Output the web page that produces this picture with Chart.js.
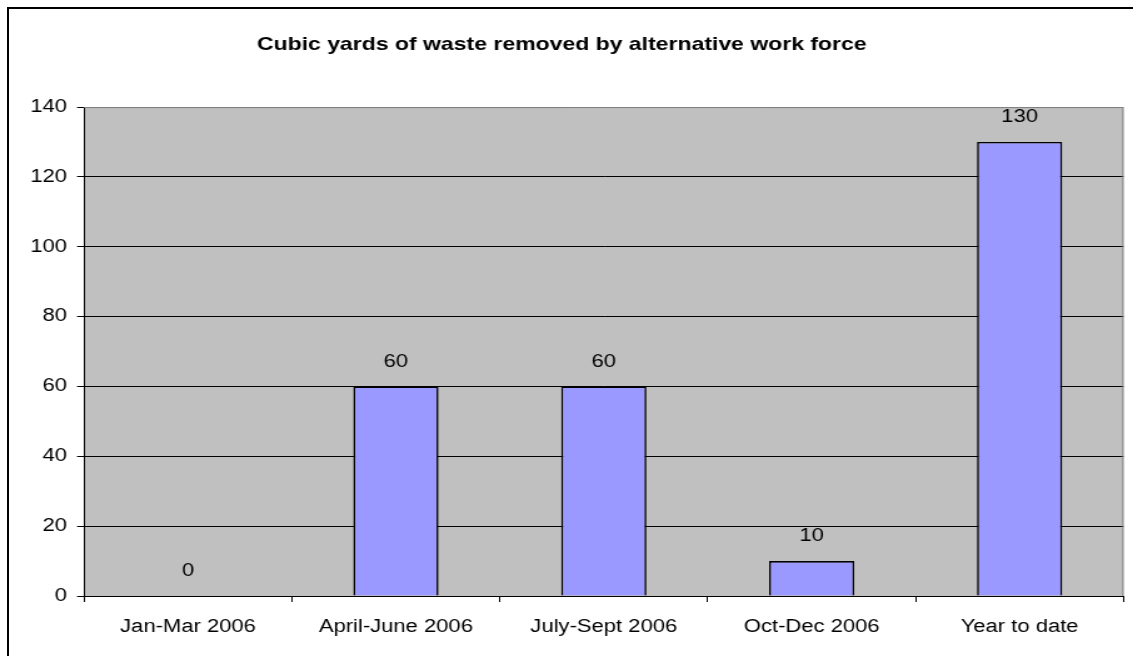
<!DOCTYPE html>
<html>
<head>
<meta charset="utf-8">
<script src="https://cdn.jsdelivr.net/npm/chart.js@4.4.0/dist/chart.umd.min.js"></script>
<style>
  html, body { margin: 0; padding: 0; background: #fff; overflow: hidden; }
  #wrap { width: 1133px; height: 656px; position: relative; overflow: hidden; }
  #wasteChart { position: absolute; left: 0; top: 0; transform: scaleX(1.2506); transform-origin: 0 0; }
  #frame { position: absolute; left: 7px; top: 7px; width: 1200px; height: 700px; border-left: 2px solid #000; border-top: 2px solid #000; }
</style>
</head>
<body>
<div id="wrap"><canvas id="wasteChart" width="906" height="656"></canvas><div id="frame"></div></div>
<script>
var categories = ['Jan-Mar 2006', 'April-June 2006', 'July-Sept 2006', 'Oct-Dec 2006', 'Year to date'];
var cubicYards = [0, 60, 60, 10, 130];
var yTicks = [0, 20, 40, 60, 80, 100, 120, 140];
var chartTitle = 'Cubic yards of waste removed by alternative work force';

var FONT = '"Liberation Sans", Arial, sans-serif';

// gray plot area with gray frame on top/right, value labels
var plotArea = {
    id: 'plotArea',
    beforeDraw: function(chart) {
        var c = chart.ctx, a = chart.chartArea;
        c.save();
        c.fillStyle = '#fff';
        c.fillRect(0, 0, chart.width, chart.height);
        c.fillStyle = '#c0c0c0';
        c.fillRect(a.left, a.top, a.right - a.left, a.bottom - a.top);
        c.restore();
    },
    afterDatasetsDraw: function(chart) {
        var c = chart.ctx, a = chart.chartArea;
        c.save();
        c.strokeStyle = '#808080';
        c.lineWidth = 1;
        c.beginPath();
        c.moveTo(a.left, a.top + 0.5);
        c.lineTo(a.right - 0.5, a.top + 0.5);
        c.lineTo(a.right - 0.5, a.bottom);
        c.stroke();
        var meta = chart.getDatasetMeta(0);
        c.fillStyle = '#000';
        c.font = '17.6px ' + FONT;
        c.textAlign = 'center';
        c.textBaseline = 'middle';
        meta.data.forEach(function(bar, i) {
            c.fillText(String(cubicYards[i]), bar.x, bar.y - 24.5);
        });
        c.restore();
    }
};

var ctx = document.getElementById('wasteChart');
var chart = new Chart(ctx.getContext('2d'), {
    type: 'bar',
    data: {
        labels: categories,
        datasets: [{
            data: cubicYards,
            backgroundColor: '#9999ff',
            borderColor: '#000',
            borderWidth: 1.6,
            barPercentage: 0.41,
            categoryPercentage: 1
        }]
    },
    options: {
        responsive: false,
        animation: false,
        layout: { padding: { top: 0, right: 7.6, left: 0, bottom: 0 } },
        plugins: {
            legend: { display: false },
            tooltip: { enabled: false },
            title: {
                display: true,
                text: chartTitle,
                color: '#000',
                font: { family: FONT, size: 18.4, weight: 'bold', lineHeight: 1.2 },
                padding: { top: 34, bottom: 51 }
            }
        },
        scales: {
            x: {
                offset: true,
                grid: { display: true, drawOnChartArea: false, drawTicks: true, tickLength: 6, color: '#000', offset: true },
                border: { display: true, color: '#000', width: 1 },
                ticks: { color: '#000', font: { family: FONT, size: 17.6 }, padding: 15, maxRotation: 0 },
                afterFit: function(scale) { scale.height = 60; }
            },
            y: {
                min: 0,
                max: 140,
                afterBuildTicks: function(scale) {
                    scale.ticks = yTicks.map(function(v) { return { value: v }; });
                },
                grid: {
                    color: function(c) { return c.tick && c.tick.value === 140 ? '#808080' : '#000'; },
                    tickColor: '#000',
                    tickLength: 5.6,
                    lineWidth: 1
                },
                border: { display: true, color: '#000', width: 1 },
                ticks: { color: '#000', font: { family: FONT, size: 17.6 }, padding: 8 },
                afterFit: function(scale) { scale.width = 67.2; }
            }
        }
    },
    plugins: [plotArea]
});
</script>
</body>
</html>
